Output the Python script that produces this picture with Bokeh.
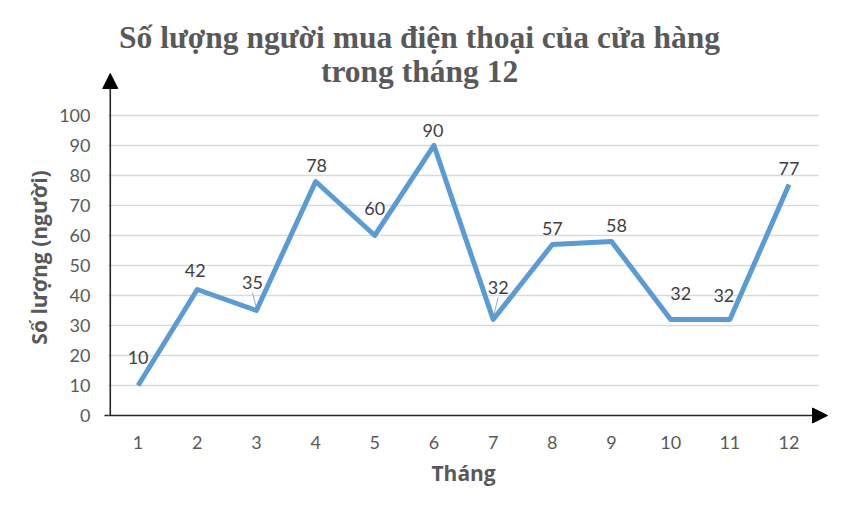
import math
from bokeh.plotting import figure
from bokeh.models import ColumnDataSource, Range1d, Arrow, NormalHead
from bokeh.core.properties import value
from bokeh.embed import file_html
from bokeh.resources import INLINE

# ---- data ----
months = [1, 2, 3, 4, 5, 6, 7, 8, 9, 10, 11, 12]
buyers = [10, 42, 35, 78, 60, 90, 32, 57, 58, 32, 32, 77]
y_ticks = [0, 10, 20, 30, 40, 50, 60, 70, 80, 90, 100]
title_lines = ["Số lượng người mua điện thoại của cửa hàng", "trong tháng 12"]
x_title = "Tháng"
y_title = "Số lượng (người)"

# data-label offsets in pixels (dx right, dy up)
label_dx = [0, -2, -4, 1, 0, -1, 5, 0, 5, 10, -6, 0]
label_dy = [28, 19, 28, 16, 27, 15, 32, 16, 16, 26, 24, 16]

W, H = 834, 505
X0, X1 = -1.325, 12.768
Y0, Y1 = -30.0, 138.33
SX = W / (X1 - X0)
SY = H / (Y1 - Y0)

TICK_FONT = "Lato"
GRAY = "#595959"

p = figure(width=W, height=H, output_backend="svg", toolbar_location=None,
           x_range=Range1d(X0, X1), y_range=Range1d(Y0, Y1),
           min_border=0)
p.outline_line_color = None
p.background_fill_color = "white"
p.border_fill_color = "white"
p.xaxis.visible = False
p.yaxis.visible = False
p.xgrid.visible = False
p.ygrid.visible = False

# gridlines
gy = [t for t in y_ticks if t > 0]
p.segment(x0=[0.5] * len(gy), x1=[12.5] * len(gy), y0=gy, y1=gy,
          line_color="#d9d9d9", line_width=1.3)

# axis arrows
x_axis_end = 12.65
y_axis_end = 114
p.add_layout(Arrow(end=NormalHead(size=15, fill_color="black", line_color="black"),
                   x_start=0.5, y_start=0, x_end=x_axis_end, y_end=0,
                   line_color="#262626", line_width=1.6))
p.add_layout(Arrow(end=NormalHead(size=15, fill_color="black", line_color="black"),
                   x_start=0.53, y_start=0, x_end=0.53, y_end=y_axis_end,
                   line_color="#262626", line_width=1.6))
# small tick at zero
p.segment(x0=[0.5 - 4 / SX], x1=[0.5], y0=[0], y1=[0], line_color="#262626",
          line_width=1.4)

# tick labels
p.text(x=[0.5 - 18 / SX] * len(y_ticks), y=y_ticks, text=[str(t) for t in y_ticks],
       text_font=value(TICK_FONT), text_font_size="18px", text_color=GRAY,
       text_align="right", text_baseline="middle")
p.text(x=months, y=[-27 / SY] * len(months), text=[str(m) for m in months],
       text_font=value(TICK_FONT), text_font_size="18px", text_color=GRAY,
       text_align="center", text_baseline="middle")

# leader lines for labels 3 and 7
for i in (2, 6):
    x = months[i]
    y = buyers[i]
    p.segment(x0=[x + label_dx[i] / SX], y0=[y + (label_dy[i] - 10) / SY],
              x1=[x], y1=[y + 2 / SY], line_color="#a6a6a6", line_width=1)

# line
src = ColumnDataSource(dict(x=months, y=buyers, lab=[str(v) for v in buyers],
                            dx=label_dx, dy=[-d for d in label_dy]))
p.line("x", "y", source=src, line_color="#5B9BD5", line_width=5,
       line_join="round")

# data labels
p.text("x", "y", text="lab", source=src, x_offset="dx", y_offset="dy",
       text_font=value(TICK_FONT), text_font_size="18px", text_color="#404040",
       text_align="center", text_baseline="middle")

# titles
p.text(x=[5.756, 5.756], y=[(415 - 37) / SY, (415 - 71) / SY], text=title_lines,
       text_font=value("Liberation Serif"), text_font_style="bold",
       text_font_size="31.5px", text_color=GRAY,
       text_align="center", text_baseline="middle")
p.text(x=[6.5], y=[-58 / SY], text=[x_title],
       text_font=value("Open Sans"), text_font_style="bold",
       text_font_size="21px", text_color=GRAY,
       text_align="center", text_baseline="middle")
p.text(x=[0.5 - 70 / SX], y=[50 + 8 / SY], text=[y_title], angle=math.pi / 2,
       text_font=value("Open Sans"), text_font_style="bold",
       text_font_size="21px", text_color=GRAY,
       text_align="center", text_baseline="middle")

open("out.html", "w").write(file_html(p, INLINE))
